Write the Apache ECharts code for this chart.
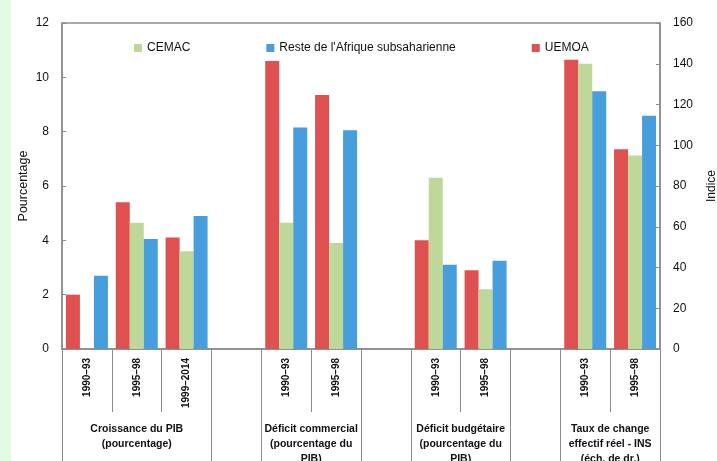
<!DOCTYPE html>
<html>
<head>
<meta charset="utf-8">
<script src="https://cdn.jsdelivr.net/npm/echarts@6/dist/echarts.min.js"></script>
<style>
html,body{margin:0;padding:0;background:#fff;}
#c{width:717px;height:461px;}
</style>
</head>
<body>
<div id="c"></div>
<script>
// ---- data ----
const periods = ['1990–93','1995–98','1999–2014','','1990–93','1995–98','','1990–93','1995–98','','1990–93','1995–98'];
const groupLabels = ['Croissance du PIB\n(pourcentage)','Déficit commercial\n(pourcentage du\nPIB)','Déficit budgétaire\n(pourcentage du\nPIB)','Taux de change\neffectif réel - INS\n(éch. de dr.)'];
const groupSpans = [[0,3],[4,6],[7,9],[10,12]];
const legendOrder = ['CEMAC',"Reste de l'Afrique subsaharienne",'UEMOA'];
// left axis (percent)
const uemoaLeft = [2.0, 5.4, 4.1, null, 10.6, 9.35, null, 4.0, 2.9, null, null, null];
const cemacLeft = [null, 4.65, 3.6, null, 4.65, 3.9, null, 6.3, 2.2, null, null, null];
const resteLeft = [2.7, 4.05, 4.9, null, 8.15, 8.05, null, 3.1, 3.25, null, null, null];
// right axis (index)
const uemoaRight = [null, null, null, null, null, null, null, null, null, null, 142, 98];
const cemacRight = [null, null, null, null, null, null, null, null, null, null, 140, 95];
const resteRight = [null, null, null, null, null, null, null, null, null, null, 126.5, 114.5];
const leftTicks = [0, 12, 2];
const rightTicks = [0, 160, 20];

// ---- chart ----
const colors = {'UEMOA':'#df5050','CEMAC':'#bdd899',"Reste de l'Afrique subsaharienne":'#479edd'};
const FONT = '"Liberation Sans", Arial, sans-serif';
const axisGray = '#8c8c8c';
const chart = echarts.init(document.getElementById('c'), null, {renderer:'canvas'});

const groupCenters = groupSpans.map(s => (s[0] + s[1]) / 2);
const separators = [];
groupSpans.forEach(s => { separators.push(s[0], s[1]); });
const sepUnique = Array.from(new Set(separators.concat([3,6,9]))).sort((a,b)=>a-b);

const gridBox = {left:62, right:57, top:23, bottom:112, containLabel:false, outerBoundsMode:'none'};

function bar(name, data, idx) {
  return {
    name: name, type: 'bar', data: data,
    xAxisIndex: idx === 0 ? 0 : 2, yAxisIndex: idx,
    barWidth: 14, barGap: '0%',
    itemStyle: {color: colors[name]},
    emphasis: {disabled: true}
  };
}

chart.setOption({
  animation: false,
  textStyle: {fontFamily: FONT},
  graphic: [{type:'rect', shape:{x:0,y:0,width:11,height:461}, style:{fill:'#e4fae2'}, silent:true}],
  grid: [
    Object.assign({show:true, borderColor:axisGray, borderWidth:1.5, backgroundColor:'transparent'}, gridBox),
    Object.assign({show:false}, gridBox)
  ],
  legend: {
    data: legendOrder, top: 37, left: 129, itemGap: 76,
    itemWidth: 8, itemHeight: 8, icon: 'rect',
    textStyle: {fontFamily: FONT, fontSize: 12, color: '#111'},
    selectedMode: false
  },
  xAxis: [
    {
      type: 'category', gridIndex: 0, data: periods, position: 'bottom',
      axisLine: {show:true, lineStyle:{color:axisGray, width:1.5}},
      axisTick: {show:true, interval:0, length:63, lineStyle:{color:axisGray, width:1}},
      axisLabel: {interval:0, rotate:90, margin:9, fontFamily:FONT, fontSize:10, fontWeight:'bold', color:'#111'},
      splitLine: {show:false}
    },
    {
      type: 'value', gridIndex: 0, min: 0, max: periods.length, position: 'bottom',
      axisLine: {show:false},
      axisTick: {show:true, customValues: sepUnique, length: 130, lineStyle:{color:axisGray, width:1}},
      axisLabel: {
        show:true, customValues: groupCenters, margin: 73,
        formatter: v => { const i = groupCenters.indexOf(v); return i >= 0 ? groupLabels[i] : ''; },
        fontFamily: FONT, fontSize: 10.5, fontWeight: 'bold', color:'#111', lineHeight: 15, align:'center'
      },
      splitLine: {show:false}
    },
    {
      type: 'category', gridIndex: 1, data: periods, show: false
    }
  ],
  yAxis: [
    {
      type: 'value', gridIndex: 0, position: 'left',
      min: leftTicks[0], max: leftTicks[1], interval: leftTicks[2],
      name: 'Pourcentage', nameLocation: 'middle', nameRotate: 90, nameGap: 32, nameMoveOverlap: false,
      nameTextStyle: {fontFamily: FONT, fontSize: 12.5, color:'#111'},
      axisLine: {show:true, lineStyle:{color:axisGray, width:1.5}},
      axisTick: {show:true, inside:true, length:4, lineStyle:{color:axisGray}},
      axisLabel: {margin: 13, fontFamily: FONT, fontSize: 12, color:'#111'},
      splitLine: {show:false}
    },
    {
      type: 'value', gridIndex: 1, position: 'right',
      min: rightTicks[0], max: rightTicks[1], interval: rightTicks[2],
      name: 'Indice', nameLocation: 'middle', nameRotate: 90, nameGap: 46, nameMoveOverlap: false,
      nameTextStyle: {fontFamily: FONT, fontSize: 12, color:'#111'},
      axisLine: {show:true, lineStyle:{color:axisGray, width:1.5}},
      axisTick: {show:true, inside:true, length:4, lineStyle:{color:axisGray}},
      axisLabel: {margin: 13, fontFamily: FONT, fontSize: 12, color:'#111'},
      splitLine: {show:false}
    }
  ],
  series: [
    bar('UEMOA', uemoaLeft, 0),
    bar('CEMAC', cemacLeft, 0),
    bar("Reste de l'Afrique subsaharienne", resteLeft, 0),
    bar('UEMOA', uemoaRight, 1),
    bar('CEMAC', cemacRight, 1),
    bar("Reste de l'Afrique subsaharienne", resteRight, 1)
  ]
});
</script>
</body>
</html>
